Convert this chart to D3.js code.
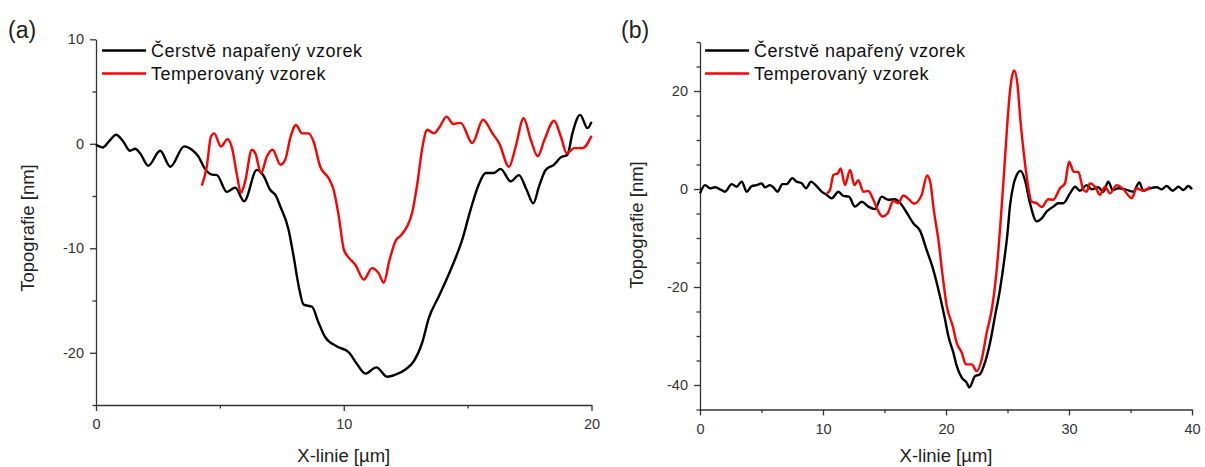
<!DOCTYPE html>
<html>
<head>
<meta charset="utf-8">
<script src="https://cdn.jsdelivr.net/npm/d3@7"></script>
<style>
  body { margin: 0; background: #fff; }
  svg { display: block; }
  .tick text { font-family: "Liberation Sans", Arial, sans-serif; font-size: 14.5px; fill: #333; }
  .axis path, .axis line { stroke: #333; stroke-width: 1.3px; }
  .axis-title { font-family: "Liberation Sans", Arial, sans-serif; font-size: 18.5px; fill: #222; }
  .legend-text { font-family: "Liberation Sans", Arial, sans-serif; font-size: 18px; letter-spacing: 0.5px; fill: #111; }
  .panel-label { font-family: "Liberation Sans", Arial, sans-serif; font-size: 23px; fill: #222; }
</style>
</head>
<body>
<div id="vis"></div>
<script>
// legend / titles
const seriesNames = ["Čerstvě napařený vzorek", "Temperovaný vzorek"];
const xTitle = "X-linie [µm]";
const yTitle = "Topografie [nm]";

// ticks
const aXTicks = [0, 10, 20];
const aXMinor = [5, 15];
const aYTicks = [-20, -10, 0, 10];
const aYMinor = [-25, -15, -5, 5];
const bXTicks = [0, 10, 20, 30, 40];
const bXMinor = [5, 15, 25, 35];
const bYTicks = [-40, -20, 0, 20];
const bYMinor = [-45, -35, -30, -25, -15, -10, -5, 5, 10, 15, 25, 30];

// panel (a) : fresh sample  [x um, height nm]
const aFresh = [
  [0, -0.1], [0.27, -0.35], [0.55, 0.3], [0.81, 0.86], [1.1, 0.22], [1.37, -0.67], [1.58, -0.48],
  [1.78, -0.9], [2.11, -2.1], [2.59, -0.67], [3.0, -2.2], [3.56, -0.25], [3.87, -0.57],
  [4.13, -1.2], [4.4, -2.4], [4.68, -2.95], [4.88, -3.0], [5.28, -4.6], [5.62, -4.2],
  [5.98, -5.5], [6.49, -2.5], [6.77, -3.1], [7.03, -4.4], [7.24, -4.9], [7.44, -6.0],
  [7.77, -8.2], [7.97, -10.7], [8.18, -13.6], [8.38, -15.4], [8.72, -15.6], [8.98, -17.1],
  [9.25, -18.5], [9.73, -19.4], [10.2, -19.95], [10.54, -21.1], [10.87, -22.0], [11.32, -21.4],
  [11.75, -22.3], [12.09, -22.1], [12.49, -21.6], [12.83, -20.8], [13.17, -19.0], [13.43, -16.7],
  [13.84, -14.6], [14.38, -11.7], [14.78, -9.2], [15.12, -6.3], [15.45, -3.9], [15.73, -2.8],
  [16.06, -2.8], [16.33, -2.4], [16.74, -3.6], [17.07, -3.0], [17.38, -4.4], [17.65, -5.7],
  [17.88, -4.1], [18.15, -2.5], [18.49, -2.0], [18.76, -1.3], [19.03, -1.05], [19.23, 1.0],
  [19.54, 2.77], [19.84, 1.5], [20.0, 2.1]
];

// panel (a) : annealed sample
const aAnnealed = [
  [4.27, -4.0], [4.47, -2.2], [4.64, 0.7], [4.77, 1.0], [5.04, -0.26], [5.31, 0.45], [5.49, -0.41],
  [5.69, -3.0], [5.85, -4.7], [6.02, -3.6], [6.29, -0.57], [6.43, -0.9], [6.66, -2.8], [6.9, -1.2],
  [7.13, -0.57], [7.44, -2.0], [7.64, -1.5], [7.84, 0.54], [8.07, 1.8], [8.32, 1.0], [8.58, 1.0],
  [8.78, 0.22], [9.05, -2.2], [9.39, -3.3], [9.59, -4.4], [9.8, -6.95], [10.0, -10.1],
  [10.2, -10.9], [10.47, -11.6], [10.81, -13.0], [11.14, -11.9], [11.41, -12.4], [11.61, -13.3],
  [11.85, -11.1], [12.09, -9.3], [12.29, -8.8], [12.56, -7.9], [12.76, -6.6], [12.97, -3.8],
  [13.17, -0.4], [13.37, 1.34], [13.64, 1.0], [13.84, 1.5], [14.15, 2.6], [14.42, 1.9],
  [14.72, 2.0], [15.19, 0.07], [15.62, 2.3], [16.0, 1.0], [16.27, 0.07], [16.67, -2.2],
  [16.94, -0.26], [17.26, 2.45], [17.55, 0.38], [17.83, -1.2], [18.1, 0.38], [18.49, 2.2],
  [18.76, 0.7], [19.0, -0.9], [19.3, -0.42], [19.64, -0.42], [20.0, 0.76]
];

// panel (b) : fresh sample
const bFresh = [
  [0, -0.9], [0.41, 0.8], [0.81, 0.14], [1.22, 0.35], [1.63, -0.07], [2.03, -0.55], [2.58, 1.0],
  [2.98, 0.47], [3.39, 1.5], [3.8, -0.55], [4.2, 0.6], [4.61, 0.8], [5.02, 1.15], [5.28, 0.35],
  [5.69, 0.8], [5.96, 0.35], [6.31, -0.55], [6.69, 1.0], [7.05, 1.0], [7.5, 2.2], [7.86, 1.5],
  [8.27, 1.15], [8.62, 0.14], [9.02, 1.5], [9.4, 0.8], [9.89, -0.55], [10.3, -1.2], [10.71, -1.9],
  [11.25, -0.55], [11.65, -1.4], [12.11, -1.55], [12.6, -3.6], [13.15, -2.6], [13.69, -3.6],
  [14.23, -4.1], [14.77, -1.55], [15.31, -2.2], [15.85, -2.1], [16.26, -2.8], [16.8, -4.8],
  [17.34, -7.0], [17.89, -8.5], [18.42, -12.4], [18.97, -16.5], [19.51, -21.9], [19.92, -26.6],
  [20.19, -30.0], [20.6, -33.4], [20.87, -36.1], [21.28, -38.5], [21.68, -39.5], [21.9, -40.5],
  [22.36, -38.2], [22.76, -37.8], [23.17, -35.4], [23.58, -31.4], [23.98, -26.0], [24.39, -20.5],
  [24.74, -14.4], [25.0, -9.0], [25.2, -3.5], [25.5, 1.0], [25.75, 2.85], [26.07, 3.7],
  [26.42, 1.8], [26.83, -2.9], [27.37, -6.6], [27.78, -6.0], [28.18, -4.6], [28.72, -3.6],
  [29.13, -2.9], [29.54, -2.9], [30.08, -0.9], [30.49, 0.47], [30.89, -0.35], [31.44, 0.8],
  [31.84, -0.07], [32.38, 0.35], [32.79, -0.55], [33.2, 1.5], [33.55, -0.2], [34.01, 0.14],
  [34.55, -0.07], [35.23, -0.55], [35.72, 1.35], [36.04, -0.35], [36.59, 0.14], [37.13, 0.35],
  [37.54, -0.07], [37.94, 0.6], [38.43, -0.35], [38.9, 0.47], [39.3, -0.2], [39.7, 0.6], [40.0, -0.07]
];

// panel (b) : annealed sample
const bAnnealed = [
  [10.3, -0.9], [10.57, -0.2], [10.84, 2.85], [11.2, 3.2], [11.44, 4.2], [11.79, 0.8], [12.2, 3.9],
  [12.55, 0.8], [12.87, 1.8], [13.28, -0.55], [13.69, -0.4], [14.09, -2.2], [14.45, -4.3],
  [14.83, -5.6], [15.26, -4.95], [15.72, -2.4], [16.12, -2.9], [16.53, -1.3], [16.94, -2.0],
  [17.41, -3.0], [18.02, -1.2], [18.46, 2.75], [18.75, 1.0], [18.97, -3.6], [19.38, -10.4],
  [19.73, -17.8], [20.06, -23.9], [20.55, -28.0], [20.87, -31.4], [21.28, -33.4], [21.63, -35.8],
  [22.09, -35.8], [22.5, -37.2], [22.9, -34.8], [23.31, -29.3], [23.72, -24.6], [24.12, -16.5],
  [24.39, -8.3], [24.66, 1.15], [24.93, 11.3], [25.14, 18.4], [25.35, 22.8], [25.55, 24.2],
  [25.8, 21.5], [26.05, 14.0], [26.3, 7.9], [26.56, 2.5], [26.97, -2.6], [27.37, -2.9],
  [27.78, -3.7], [28.32, -2.1], [28.72, -2.2], [29.27, 0.14], [29.67, 1.15], [30.0, 5.55],
  [30.4, 3.5], [30.76, 3.5], [31.17, -0.2], [31.44, -0.55], [31.7, 1.15], [32.2, 0.14],
  [32.5, -1.2], [32.93, 0.47], [33.33, -0.9], [33.88, 0.8], [34.42, -0.07], [35.1, -1.9],
  [35.5, 0.14], [36.0, -0.35], [36.6, 0.47]
];

const svg = d3.select("#vis").append("svg")
  .attr("width", 1205)
  .attr("height", 467);

function drawPanel(p) {
  const x = d3.scaleLinear().domain(p.xDomain).range(p.xRange);
  const y = d3.scaleLinear().domain(p.yDomain).range(p.yRange);
  const g = svg.append("g");

  // minor ticks first, then major ticks with labels
  g.append("g").attr("class", "axis")
    .attr("transform", `translate(0,${p.yRange[0]})`)
    .call(d3.axisBottom(x).tickValues(p.xMinor).tickSize(3.5).tickFormat(""))
    .call(s => s.select(".domain").remove());
  g.append("g").attr("class", "axis")
    .attr("transform", `translate(${p.xRange[0]},0)`)
    .call(d3.axisLeft(y).tickValues(p.yMinor).tickSize(3.5).tickFormat(""))
    .call(s => s.select(".domain").remove());

  g.append("g").attr("class", "axis")
    .attr("transform", `translate(0,${p.yRange[0]})`)
    .call(d3.axisBottom(x).tickValues(p.xTicks).tickSize(6).tickSizeOuter(0).tickPadding(8)
      .tickFormat(d => String(d)));
  g.append("g").attr("class", "axis")
    .attr("transform", `translate(${p.xRange[0]},0)`)
    .call(d3.axisLeft(y).tickValues(p.yTicks).tickSize(6).tickSizeOuter(0).tickPadding(6)
      .tickFormat(d => String(d)));

  const line = d3.line()
    .x(d => x(d[0]))
    .y(d => y(d[1]))
    .curve(d3.curveMonotoneX);

  g.append("path").datum(p.fresh)
    .attr("d", line).attr("fill", "none")
    .attr("stroke", "#000").attr("stroke-width", 2.4)
    .attr("stroke-linejoin", "round");
  g.append("path").datum(p.annealed)
    .attr("d", line).attr("fill", "none")
    .attr("stroke", "#ff0000").attr("stroke-width", 2.4)
    .attr("stroke-linejoin", "round");

  // legend
  const colors = ["#000", "#ff0000"];
  seriesNames.forEach((name, i) => {
    const ly = p.legendY + i * 23;
    g.append("line")
      .attr("x1", p.legendX).attr("x2", p.legendX + 44)
      .attr("y1", ly).attr("y2", ly)
      .attr("stroke", colors[i]).attr("stroke-width", 2.4);
    g.append("text").attr("class", "legend-text")
      .attr("x", p.legendX + 49).attr("y", ly + 6)
      .text(name);
  });

  // axis titles
  const xMid = (p.xRange[0] + p.xRange[1]) / 2;
  g.append("text").attr("class", "axis-title")
    .attr("text-anchor", "middle")
    .attr("x", xMid).attr("y", 462)
    .text(xTitle);
  g.append("text").attr("class", "axis-title")
    .attr("text-anchor", "middle")
    .attr("transform", `translate(${p.yTitleX},${p.yTitleY}) rotate(-90)`)
    .text(yTitle);

  g.append("text").attr("class", "panel-label")
    .attr("x", p.labelX).attr("y", 38)
    .text(p.label);
}

drawPanel({
  label: "(a)", labelX: 8,
  xDomain: [0, 20], xRange: [96, 591.5],
  yDomain: [-25, 10], yRange: [405, 39.3],
  xTicks: aXTicks, xMinor: aXMinor, yTicks: aYTicks, yMinor: aYMinor,
  fresh: aFresh, annealed: aAnnealed,
  legendX: 102, legendY: 50.5,
  yTitleX: 34, yTitleY: 228
});

drawPanel({
  label: "(b)", labelX: 621,
  xDomain: [0, 40], xRange: [700, 1192],
  yDomain: [-45, 30], yRange: [409.5, 42],
  xTicks: bXTicks, xMinor: bXMinor, yTicks: bYTicks, yMinor: bYMinor,
  fresh: bFresh, annealed: bAnnealed,
  legendX: 705, legendY: 50.5,
  yTitleX: 643, yTitleY: 225
});
</script>
</body>
</html>
